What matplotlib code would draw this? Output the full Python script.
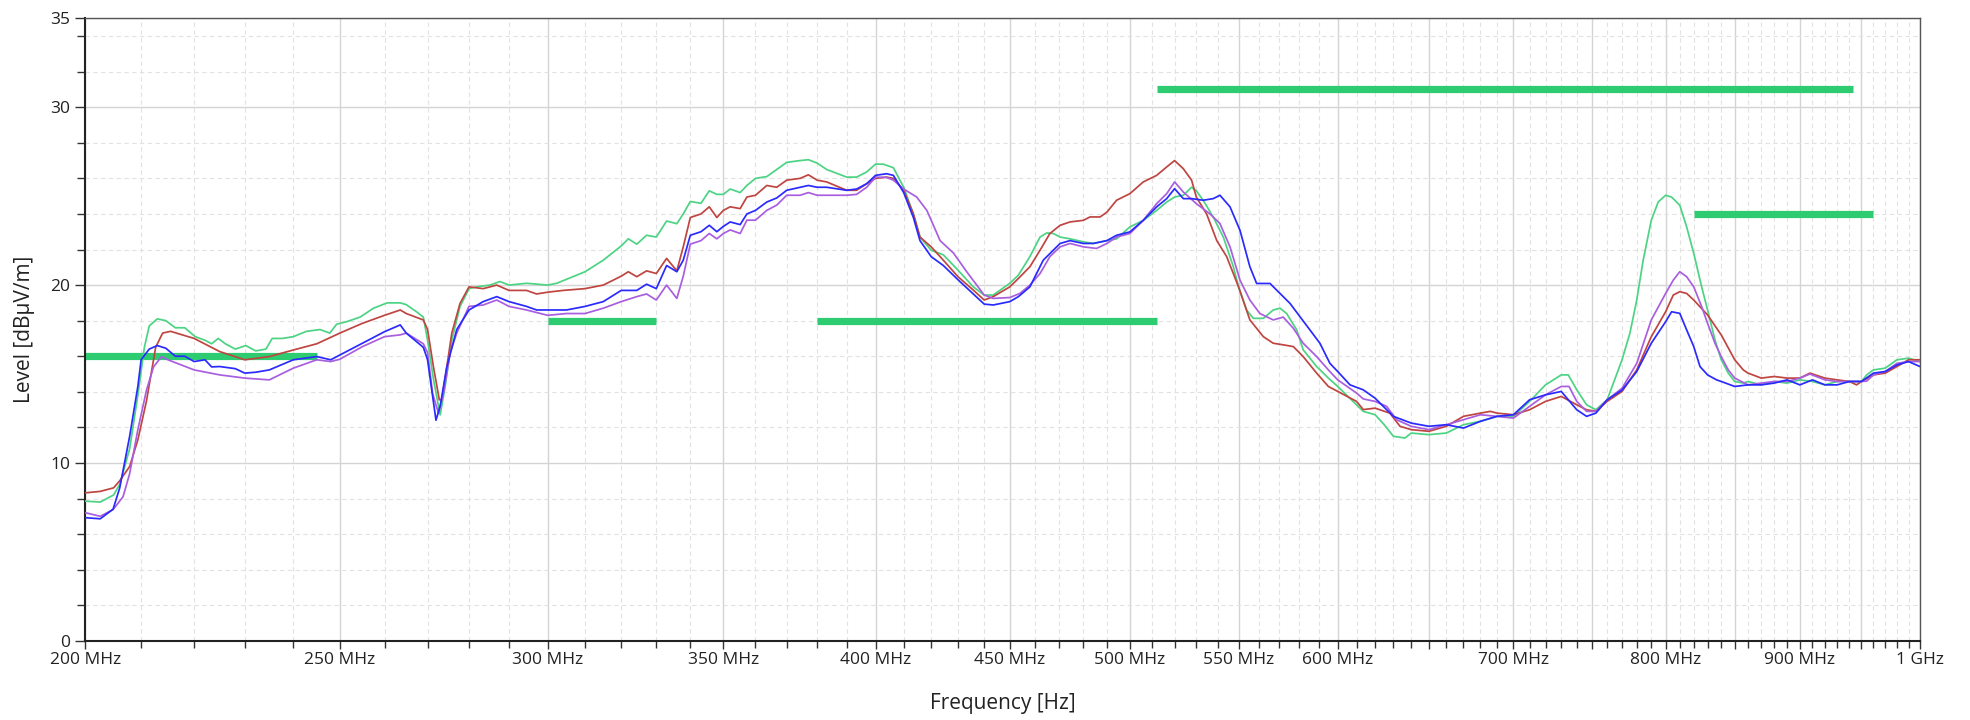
import matplotlib
matplotlib.use('Agg')
import matplotlib.pyplot as plt
from matplotlib.ticker import FixedLocator, NullFormatter

plt.rcParams['font.family'] = ['Open Sans', 'DejaVu Sans']

#  Measured traces, frequency in MHz, level in dBuV/m
green_f = [200, 202.6, 205, 206.1, 207.9, 209.4, 210.6, 211.5, 213, 214.6, 216.4,
           218.2, 220.2, 222.1, 223.4, 224.7, 226.1, 228.1, 230.2, 232.2, 234.3,
           235.6, 237.7, 240, 242.8, 245.7, 247.8, 249.3, 251.6, 254.5, 257.5,
           260.6, 263.6, 265, 267.4, 269, 270, 271.4, 273, 274.2, 275.8, 277.8,
           280, 281.9, 285.2, 287.7, 290, 294.5, 300, 302.4, 310, 315, 320, 322,
           324.4, 327.2, 330, 333, 336, 337.9, 340, 343.2, 345.7, 348, 350, 352.1,
           355.2, 357.3, 360, 363.6, 366.8, 370, 374.4, 377.1, 380, 383.2, 390,
           393.4, 396.9, 400, 402.7, 406.3, 410, 413.5, 415.9, 420, 424.5, 430,
           435.8, 440, 443.5, 450, 453.4, 458, 462.1, 464.8, 467.5, 470.3, 474.4,
           480, 484.2, 490, 494.2, 500, 505.9, 511.9, 516.4, 520, 524, 527.8, 530,
           533.2, 537.9, 542.7, 547.5, 550, 553.9, 557.2, 562.1, 567, 570.4,
           573.7, 578.8, 582.1, 589, 595.1, 600, 610, 613.6, 620, 625, 630, 636.5,
           640, 650, 660, 670, 680, 690, 700, 710, 720, 730, 734.5, 740, 746.4,
           752.5, 760, 770, 775.3, 780, 784.4, 790, 794.8, 800, 804.2, 810, 814.9,
           820, 825.7, 830, 835.4, 840, 845.2, 850, 856.4, 860, 870, 880, 890, 900,
           910, 920, 930, 940, 950, 954.3, 960, 970, 980, 990, 1000]
green_db = [7.85, 7.8, 8.2, 8.8, 10.8, 13.8, 16.5, 17.7, 18.1, 18.0, 17.6,
            17.6, 17.1, 16.9, 16.7, 17.0, 16.7, 16.4, 16.6, 16.3, 16.4,
            17.0, 17.0, 17.1, 17.4, 17.5, 17.3, 17.8, 17.95, 18.2, 18.7,
            19.0, 19.0, 18.9, 18.5, 18.2, 16.9, 14.7, 12.7, 14.3, 16.9, 18.8,
            19.8, 19.9, 20.0, 20.2, 20.0, 20.1, 20.0, 20.1, 20.75, 21.4, 22.2, 22.6,
            22.3, 22.8, 22.7, 23.6, 23.45, 24.0, 24.7, 24.6, 25.3, 25.1, 25.1, 25.4,
            25.2, 25.6, 26.0, 26.1, 26.5, 26.9, 27.0, 27.05, 26.86, 26.5, 26.07,
            26.07, 26.36, 26.8, 26.8, 26.6, 25.5, 24.0, 22.7, 21.96, 21.7, 20.84,
            19.9, 19.44, 19.44, 20.1, 20.56, 21.6, 22.7, 22.93, 22.9, 22.7, 22.6,
            22.43, 22.34, 22.5, 22.6, 23.27, 23.64, 24.2, 24.67, 24.95, 25.05, 25.5, 25.3,
            24.77, 23.83, 22.7, 21.03, 19.9, 18.6, 18.13, 18.13, 18.6, 18.7,
            18.4, 17.48, 16.36, 15.42, 14.77, 14.3, 13.27, 12.9, 12.71, 12.15, 11.5, 11.4,
            11.68, 11.59, 11.68, 12.15, 12.34, 12.62, 12.62, 13.46, 14.39, 14.95, 14.95, 14.11, 13.27,
            12.99, 13.55, 15.8, 17.29, 19.16, 21.4, 23.64, 24.67, 25.05, 24.95, 24.49, 23.27,
            21.78, 19.9, 18.6, 16.92, 15.8, 15.05, 14.58, 14.49, 14.58, 14.39, 14.58, 14.49, 14.67,
            14.58, 14.39, 14.58, 14.58, 14.58, 14.95, 15.23, 15.33, 15.8, 15.89, 15.7]

red_f = [200, 202.6, 205, 206.1, 207.9, 209.4, 211, 212.7, 214, 215.5, 220, 225,
         230, 235, 240, 245, 250, 255, 260, 263.6, 265, 269, 270, 271.4, 272.8,
         273.4, 274.6, 275.8, 277.8, 280, 283.5, 286.9, 290, 294.5, 297.1, 300,
         304.1, 310, 315, 320, 322, 324.4, 327.2, 330, 333, 336, 337.9, 340,
         343.2, 345.7, 348, 350, 352.1, 355.2, 357.3, 360, 363.6, 366.8, 370,
         374.4, 377.1, 380, 383.2, 390, 393.4, 396.9, 400, 403.9, 406.3, 410,
         413.5, 415.9, 420, 424.5, 430, 435.8, 440, 443.5, 450, 453.4, 458, 462.1,
         466.1, 470.3, 474.4, 480, 482.8, 487.1, 490, 494.2, 500, 505.9, 511.9,
         516.4, 520, 524, 527.8, 530, 534.8, 539.6, 544.3, 550, 555.5, 562.1, 567,
         572, 577.1, 582.1, 589, 595.1, 600, 610, 613.6, 620, 628.1, 633.7, 640,
         650, 660, 670, 680, 686, 690, 700, 710, 720, 730, 740, 746.4, 752.5, 760,
         770, 780, 790, 800, 805.4, 810, 814.9, 820, 830, 840, 850, 856.4, 860,
         870, 880, 890, 900, 908, 920, 930, 940, 945.9, 950, 960, 970, 980, 990, 1000]
red_db = [8.32, 8.4, 8.6, 9.0, 9.8, 11.3, 13.5, 16.5, 17.3, 17.4, 17.0, 16.26,
          15.8, 15.98, 16.35, 16.7, 17.3, 17.85, 18.3, 18.6, 18.4, 18.04, 17.5, 15.4, 13.55,
          13.55, 15.4, 17.3, 18.97, 19.9, 19.8, 20.0, 19.7, 19.7, 19.5, 19.6,
          19.7, 19.8, 20.0, 20.5, 20.75, 20.47, 20.8, 20.65, 21.5, 20.8, 22.15, 23.8,
          24.0, 24.4, 23.8, 24.2, 24.4, 24.3, 24.95, 25.05, 25.6, 25.5, 25.9,
          26.0, 26.2, 25.9, 25.8, 25.33, 25.33, 25.7, 26.0, 26.07, 26.0, 25.33,
          24.0, 22.7, 22.15, 21.4, 20.47, 19.72, 19.16, 19.35, 19.9, 20.37, 21.03, 21.96,
          22.9, 23.36, 23.55, 23.64, 23.83, 23.83, 24.1, 24.77, 25.14, 25.8, 26.17,
          26.64, 27.0, 26.54, 25.9, 24.95, 24.0, 22.5, 21.6, 19.9, 18.04, 17.1, 16.73,
          16.64, 16.54, 15.98, 15.05, 14.3, 14.02, 13.46, 13.0, 13.08, 12.8, 12.06, 11.87,
          11.78, 12.06, 12.62, 12.8, 12.9, 12.8, 12.71, 12.99, 13.46, 13.74, 13.27, 12.99, 12.9, 13.46,
          14.02, 15.23, 17.1, 18.5, 19.44, 19.63, 19.53, 19.16, 18.32, 17.2, 15.8, 15.23, 15.05,
          14.77, 14.86, 14.77, 14.77, 15.05, 14.77, 14.67, 14.58, 14.39, 14.58, 14.95, 15.05, 15.42, 15.8, 15.8]

blue_f = [200, 202.6, 204.9, 206.1, 207.9, 209.4, 210, 211.5, 213, 214.6, 216.4,
          218.2, 220, 222.1, 223.4, 225, 228.1, 230, 232.2, 235, 240, 242.8, 245,
          248, 250, 255, 260, 263.6, 265, 269, 270, 271, 272, 273, 274.6, 277, 280,
          283.5, 286.9, 290, 294.5, 297.1, 300, 305, 310, 315, 320, 324.4, 327.2,
          330, 333, 336, 337.9, 340, 343.2, 345.7, 348, 350, 352.1, 355.2, 357.3,
          360, 363.6, 366.8, 370, 374.4, 377.1, 380, 383.2, 390, 393.4, 396.9, 400,
          403.9, 406.3, 410, 413.5, 415.9, 420, 424.5, 430, 435.8, 440, 443.5, 450,
          453.4, 458, 463.4, 470.3, 474.4, 480, 484.2, 490, 494.2, 500, 505.9,
          511.9, 516.4, 520, 524, 527.8, 533.2, 537.9, 541.1, 545.9, 550.7, 555.5,
          558.8, 565.4, 570.4, 575.4, 580.5, 585.6, 590.7, 595.9, 600, 606.5, 613.6,
          620, 630, 640, 650, 660, 670, 680, 690, 700, 710, 720, 730, 740, 746.4,
          752.5, 760, 770, 780, 790, 800, 804.2, 810, 814.9, 820, 824.5, 830, 836.6,
          840, 850, 860, 870, 880, 890, 900, 910, 920, 930, 940, 950, 960, 970, 980,
          990, 1000]
blue_db = [6.92, 6.86, 7.4, 8.6, 11.5, 14.3, 15.8, 16.4, 16.6, 16.45, 16.0,
           16.0, 15.7, 15.8, 15.4, 15.42, 15.3, 15.05, 15.1, 15.23, 15.8, 15.9, 15.98,
           15.8, 16.07, 16.73, 17.38, 17.76, 17.3, 16.5, 15.8, 14.1, 12.4, 13.2, 15.4, 17.5, 18.6,
           19.07, 19.35, 19.07, 18.8, 18.6, 18.6, 18.6, 18.8, 19.07, 19.7, 19.7, 20.05,
           19.8, 21.1, 20.75, 21.4, 22.8, 23.0, 23.36, 23.0, 23.3, 23.55, 23.4, 24.0,
           24.2, 24.67, 24.9, 25.33, 25.5, 25.6, 25.5, 25.5, 25.33, 25.4, 25.7, 26.17,
           26.26, 26.17, 25.2, 23.8, 22.5, 21.6, 21.1, 20.3, 19.5, 18.93, 18.88, 19.07,
           19.35, 19.9, 21.4, 22.34, 22.5, 22.34, 22.34, 22.5, 22.8, 22.99, 23.64,
           24.4, 24.86, 25.42, 24.86, 24.86, 24.77, 24.86, 25.05, 24.4, 23.08, 21.03,
           20.09, 20.09, 19.53, 18.97, 18.22, 17.48, 16.73, 15.6, 15.14, 14.39, 14.11,
           13.64, 12.62, 12.24, 12.06, 12.15, 11.96, 12.34, 12.62, 12.71, 13.55, 13.83, 14.02, 12.99, 12.62,
           12.8, 13.55, 14.1, 15.14, 16.73, 17.94, 18.5, 18.41, 17.48, 16.54, 15.42, 14.95, 14.67,
           14.58, 14.3, 14.39, 14.39, 14.49, 14.67, 14.39, 14.67, 14.39, 14.39, 14.58, 14.58, 15.05, 15.14, 15.51,
           15.7, 15.42]

purple_f = [200, 202.6, 204.9, 206.7, 207.9, 209.4, 211, 212.3, 213.8, 215, 220,
            225, 230, 235, 240, 245, 248, 250, 255, 260, 263.6, 265, 269, 270,
            271.2, 272.6, 273.8, 275.4, 277, 280, 283.5, 286.9, 290, 294.5, 300,
            305, 310, 315, 320, 324.4, 327.2, 330, 333, 336, 337.9, 340, 343.2,
            345.7, 348, 350, 352.1, 355.2, 357.3, 360, 363.6, 366.8, 370, 374.4,
            377.1, 380, 383.2, 390, 393.4, 396.9, 400, 403.9, 406.3, 410, 414.7,
            418.4, 420, 423.3, 428.3, 433.3, 440, 443.5, 450, 454, 458, 462.1, 466.1,
            470.3, 474.4, 480, 485.6, 490, 494.2, 500, 505.9, 511.9, 516.4, 520, 524,
            530, 536.4, 541.1, 545.9, 550.7, 555.5, 560.4, 567, 572, 577.1, 582.1,
            589, 595.1, 600, 610, 613.6, 620, 626.3, 631.8, 640, 650, 660, 670, 680,
            690, 700, 710, 720, 730, 735, 740, 746.4, 752.5, 760, 770, 780, 790, 800,
            805.4, 810, 814.9, 820, 825.7, 830, 835.4, 840, 845.2, 850, 860, 870, 880,
            890, 900, 908, 920, 930, 940, 950, 954.3, 960, 970, 980, 990, 1000]
purple_db = [7.2, 7.0, 7.38, 8.1, 9.4, 11.87, 14.1, 15.4, 15.98, 15.8, 15.23,
             14.95, 14.77, 14.67, 15.33, 15.8, 15.7, 15.83, 16.54, 17.1, 17.2, 17.3, 16.7, 16.2,
             13.9, 12.8, 13.9, 16.2, 17.3, 18.8, 18.88, 19.16, 18.8, 18.6, 18.3,
             18.4, 18.4, 18.7, 19.07, 19.35, 19.5, 19.16, 20.0, 19.25, 20.5, 22.3, 22.5,
             22.9, 22.6, 22.9, 23.1, 22.9, 23.65, 23.65, 24.2, 24.5, 25.05, 25.05,
             25.2, 25.05, 25.05, 25.05, 25.1, 25.5, 26.07, 26.05, 25.9, 25.4, 24.95,
             24.2, 23.65, 22.5, 21.8, 20.75, 19.44, 19.25, 19.3, 19.53, 20.0, 20.65, 21.6,
             22.15, 22.34, 22.15, 22.06, 22.34, 22.7, 22.9, 23.64, 24.58, 25.14, 25.8, 25.23,
             24.58, 24.0, 23.46, 22.15, 20.28, 19.16, 18.4, 18.04, 18.2, 17.57, 16.73,
             15.98, 15.23, 14.67, 13.93, 13.6, 13.46, 13.18, 12.43, 12.06, 11.87, 12.15, 12.43, 12.71,
             12.62, 12.52, 13.18, 13.83, 14.3, 14.3, 13.46, 12.9, 12.9, 13.55, 14.2, 15.6, 18.04, 19.53,
             20.28, 20.75, 20.47, 19.9, 18.79, 17.85, 16.73, 15.98, 15.23, 14.77, 14.39, 14.49, 14.58,
             14.58, 14.77, 15.0, 14.67, 14.58, 14.58, 14.58, 14.6, 14.95, 15.14, 15.6, 15.7, 15.7]

#  Limit segments
limit_start = [200, 300, 380, 512, 820]
limit_stop = [245, 330, 512, 943, 960]
limit_level = [16, 18, 18, 31, 24]

major_freqs = [200, 250, 300, 350, 400, 450, 500, 550, 600, 650, 700, 750,
               800, 850, 900, 950, 1000]
major_labels = ['200 MHz', '250 MHz', '300 MHz', '350 MHz', '400 MHz',
                '450 MHz', '500 MHz', '550 MHz', '600 MHz', '', '700 MHz', '',
                '800 MHz', '', '900 MHz', '', '1 GHz']
minor_freqs = [f for f in range(210, 1000, 10) if f % 50 != 0]

y_major = [0, 10, 20, 30, 35]
y_minor = [v for v in range(2, 35, 2) if v % 10 != 0]

fig = plt.figure(figsize=(19.7, 7.2), dpi=100)
ax = fig.add_axes([0.0434, 0.110, 0.9312, 0.8646])

for s, e, lv in zip(limit_start, limit_stop, limit_level):
    ax.plot([s, e], [lv, lv], color='#2ecc71', linewidth=5.2,
            solid_capstyle='butt', zorder=2)

ax.plot(green_f, green_db, color='#4cd383', linewidth=1.25, zorder=3)
ax.plot(red_f, red_db, color='#bf4541', linewidth=1.25, zorder=3)
ax.plot(purple_f, purple_db, color='#a95ee0', linewidth=1.25, zorder=3)
ax.plot(blue_f, blue_db, color='#2a2aff', linewidth=1.25, zorder=4)

ax.set_xscale('log')
ax.set_xlim(200, 1000)
ax.set_ylim(0, 35)

ax.xaxis.set_major_locator(FixedLocator(major_freqs))
ax.xaxis.set_minor_locator(FixedLocator(minor_freqs))
ax.set_xticklabels(major_labels)
ax.xaxis.set_minor_formatter(NullFormatter())

ax.yaxis.set_major_locator(FixedLocator(y_major))
ax.yaxis.set_minor_locator(FixedLocator(y_minor))
ax.set_yticklabels(['0', '10', '20', '30', '35'])

ax.grid(which='major', color='#d4d4d4', linewidth=1.0, linestyle='-', zorder=0)
ax.grid(which='minor', color='#e2e2e2', linewidth=0.8, linestyle=(0, (4, 3)), zorder=0)
ax.set_axisbelow(True)

ax.tick_params(axis='x', which='major', labelsize=12.5, length=6, width=1,
               color='#333333', labelcolor='#222222', pad=2)
ax.tick_params(axis='x', which='minor', length=5, width=1, color='#333333')
ax.tick_params(axis='y', which='major', labelsize=12.5, length=7, width=1,
               color='#333333', labelcolor='#222222', pad=4)
ax.tick_params(axis='y', which='minor', length=6, width=1, color='#333333')

for side in ['top', 'right']:
    ax.spines[side].set_color('#555555')
    ax.spines[side].set_linewidth(1.0)
for side in ['left', 'bottom']:
    ax.spines[side].set_color('#222222')
    ax.spines[side].set_linewidth(1.5)

ax.set_xlabel('Frequency [Hz]', fontsize=15, color='#222222')
ax.set_ylabel('Level [dBµV/m]', fontsize=15, color='#222222')
ax.xaxis.set_label_coords(0.5, -0.084)
ax.yaxis.set_label_coords(-0.0275, 0.5)

fig.savefig('out.png', dpi=100)
